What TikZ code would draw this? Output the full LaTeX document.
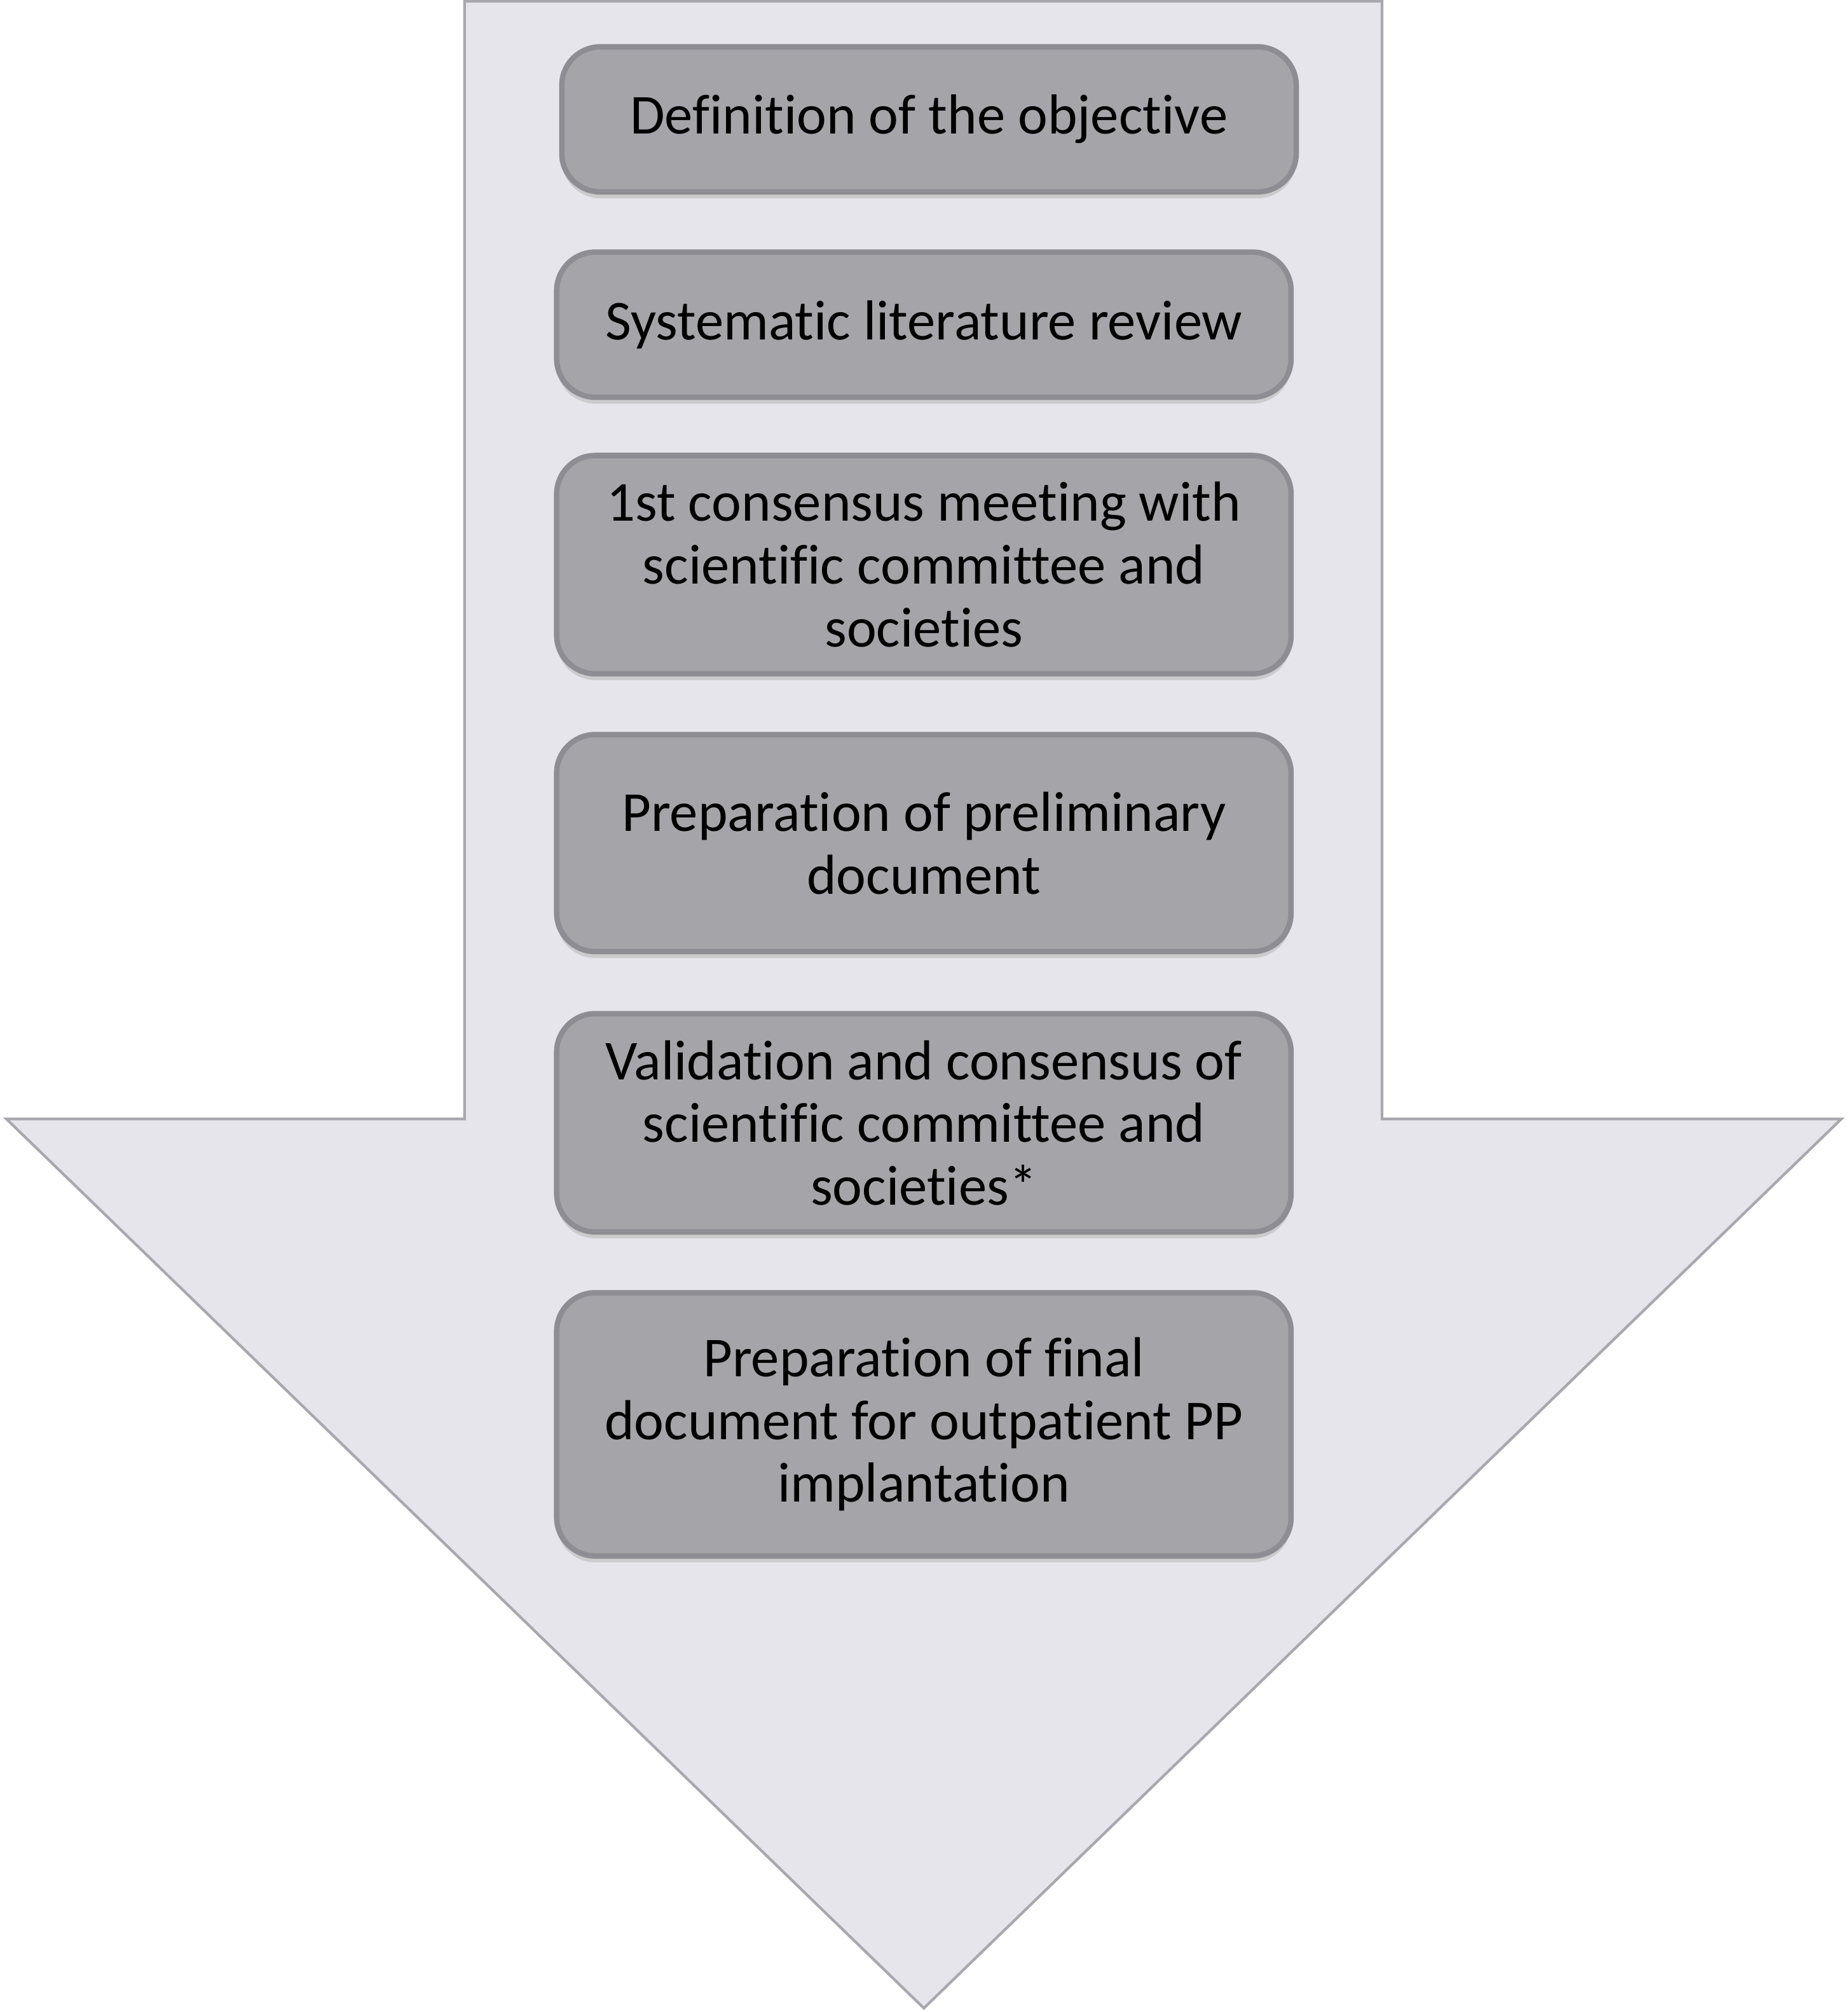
\documentclass[tikz,border=0pt]{standalone}
\usepackage{fontspec}
\setmainfont[Ligatures=NoCommon]{Carlito}
\usetikzlibrary{shadows}
\definecolor{arrowfill}{HTML}{E6E5EC}
\definecolor{arrowline}{HTML}{A8A8AE}
\definecolor{boxfill}{HTML}{A5A4A9}
\definecolor{boxline}{HTML}{8E8D93}
\begin{document}
\begin{tikzpicture}[x=0.01cm,y=-0.01cm,
  stepbox/.style={draw=boxline,line width=1.2pt,fill=boxfill,rounded corners=0.3cm,
    align=center,inner sep=0pt,font=\fontsize{12.5}{13.9}\selectfont,
    minimum width=5.72cm,
    drop shadow={shadow xshift=0pt,shadow yshift=-0.05cm,fill=black!30}}]
\useasboundingbox (0,0) rectangle (1440,1568);
\draw[fill=arrowfill,draw=arrowline,line width=0.6pt]
  (362,1) -- (1077,1) -- (1077,872) -- (1435,872) -- (720,1565) -- (5,872) -- (362,872) -- cycle;
\node[stepbox,minimum height=1.13cm] (s1) at (724,93) {Definition of the objective};
\node[stepbox,minimum height=1.13cm] (s2) at (720,253) {Systematic literature review};
\node[stepbox,minimum height=1.70cm] (s3) at (720,440) {1st consensus meeting with\\scientific committee and\\societies};
\node[stepbox,minimum height=1.69cm] (s4) at (720,657) {Preparation of preliminary\\document};
\node[stepbox,minimum height=1.70cm] (s5) at (720,875) {Validation and consensus of\\scientific committee and\\societies*};
\node[stepbox,minimum height=2.05cm] (s6) at (720,1110) {Preparation of final\\document for outpatient PP\\implantation};
\end{tikzpicture}
\end{document}
